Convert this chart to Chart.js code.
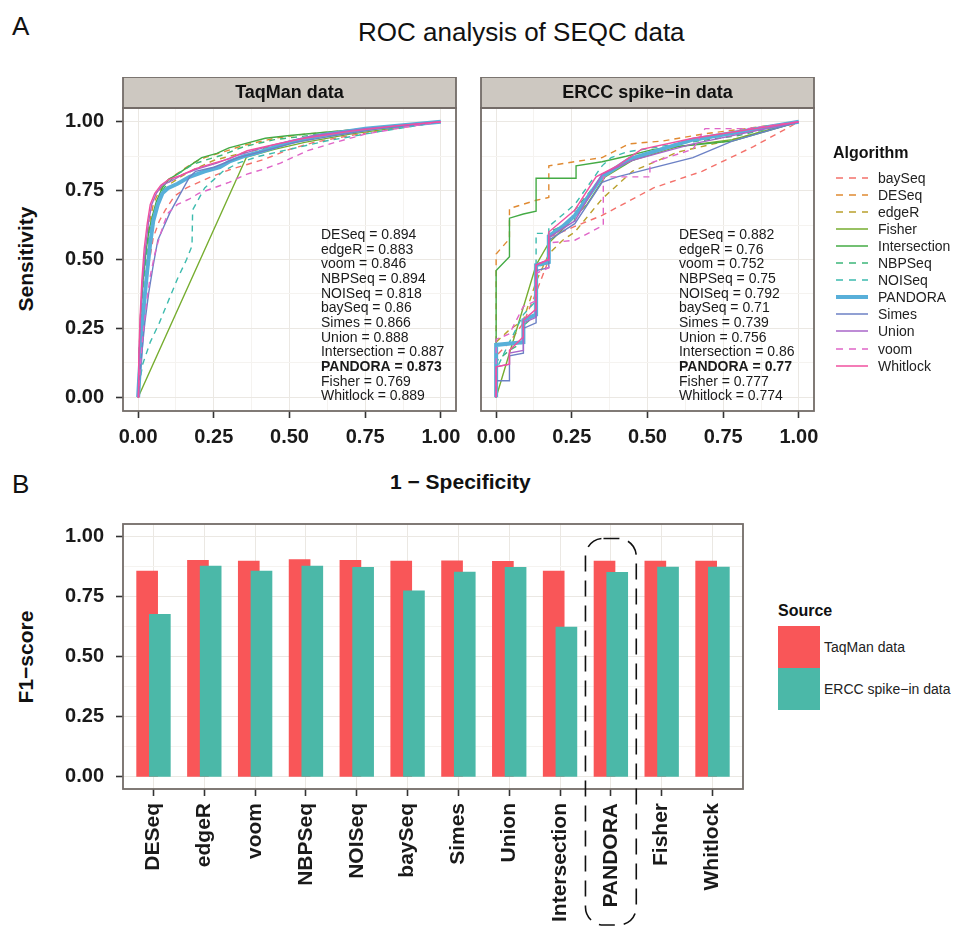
<!DOCTYPE html>
<html>
<head>
<meta charset="utf-8">
<script src="https://cdn.jsdelivr.net/npm/chart.js@4/dist/chart.umd.min.js"></script>
<style>
  body { margin: 0; background: #fff; font-family: "Liberation Sans", Arial, sans-serif; }
  #page { position: relative; width: 953px; height: 927px; overflow: hidden; }
  canvas { position: absolute; }
  .txt { position: absolute; white-space: nowrap; color: #111; line-height: 1; }
  .bold { font-weight: bold; }
  .rot { transform: translate(-50%, -50%) rotate(-90deg); }
  .lrow { position: absolute; left: 835px; height: 17px; display: flex; align-items: center; font-size: 14px; color: #222; }
  .lrow svg { margin-right: 9px; }
</style>
</head>
<body>
<div id="page">
  <div class="txt" style="left:12px;top:13px;font-size:26px;">A</div>
  <div class="txt" style="left:358px;top:19px;font-size:26px;">ROC analysis of SEQC data</div>
  <div class="txt bold rot" style="left:25px;top:259px;font-size:21px;position:absolute;">Sensitivity</div>
  <div class="txt bold" style="left:390px;top:471px;font-size:21px;">1 − Specificity</div>
  <div class="txt" style="left:12px;top:471px;font-size:26px;">B</div>
  <div class="txt bold rot" style="left:25px;top:657px;font-size:21px;position:absolute;">F1−score</div>

  <canvas id="taqman" width="430" height="372" style="left:55px;top:77px"></canvas>
  <canvas id="ercc" width="373" height="372" style="left:461px;top:77px"></canvas>
  <canvas id="f1" width="700" height="427" style="left:55px;top:500px"></canvas>

  <div class="txt bold" style="left:833px;top:145px;font-size:16px;">Algorithm</div>
  <div id="algoLegend"></div>

  <div class="txt bold" style="left:778px;top:603px;font-size:16px;">Source</div>
  <div id="srcLegend"></div>
</div>

<script>
Chart.defaults.font.family = '"Liberation Sans", Arial, sans-serif';

// ROC legend order (ggplot alphabetical)
const algorithms = ['baySeq', 'DESeq', 'edgeR', 'Fisher', 'Intersection', 'NBPSeq', 'NOISeq', 'PANDORA', 'Simes', 'Union', 'voom', 'Whitlock'];
const algoColors = ['#f4716b', '#e08a32', '#b9a02c', '#76ad2f', '#44ab45', '#3db779', '#3dbbae', '#58afd9', '#6c81c5', '#a866c8', '#e066c8', '#f0509f'];
const algoDashed = [true, true, true, false, false, true, true, false, false, false, true, false];

// method order used for AUC labels and F1 bars
const methods = ['DESeq', 'edgeR', 'voom', 'NBPSeq', 'NOISeq', 'baySeq', 'Simes', 'Union', 'Intersection', 'PANDORA', 'Fisher', 'Whitlock'];
const taqmanAuc = [0.894, 0.883, 0.846, 0.894, 0.818, 0.86, 0.866, 0.888, 0.887, 0.873, 0.769, 0.889];
const erccAuc = [0.882, 0.76, 0.752, 0.75, 0.792, 0.71, 0.739, 0.756, 0.86, 0.77, 0.777, 0.774];
const taqmanF1 = [0.855, 0.899, 0.896, 0.902, 0.899, 0.896, 0.897, 0.895, 0.855, 0.896, 0.896, 0.896];
const erccF1 = [0.675, 0.875, 0.855, 0.875, 0.870, 0.773, 0.850, 0.870, 0.622, 0.849, 0.871, 0.871];

const rocTicks = [0, 0.25, 0.5, 0.75, 1];
const f1Ticks = [0, 0.25, 0.5, 0.75, 1];

// ROC curves, [1 - specificity, sensitivity], same order as algorithms
const taqmanRoc = [
  [[0,0],[0.005,0.12],[0.012,0.25],[0.02,0.36],[0.035,0.48],[0.05,0.58],[0.07,0.64],[0.09,0.68],[0.12,0.73],[0.16,0.76],[0.2,0.78],[0.24,0.8],[0.3,0.825],[0.36,0.845],[0.42,0.865],[0.5,0.9],[0.58,0.925],[0.7,0.95],[0.85,0.975],[1,1]],
  [[0,0],[0.003,0.15],[0.008,0.3],[0.015,0.42],[0.025,0.53],[0.035,0.62],[0.05,0.7],[0.07,0.75],[0.1,0.79],[0.14,0.82],[0.18,0.85],[0.22,0.87],[0.28,0.89],[0.35,0.915],[0.45,0.94],[0.55,0.955],[0.7,0.97],[0.85,0.985],[1,1]],
  [[0,0],[0.004,0.14],[0.01,0.28],[0.018,0.4],[0.028,0.5],[0.04,0.6],[0.055,0.68],[0.075,0.73],[0.1,0.77],[0.14,0.8],[0.19,0.83],[0.25,0.86],[0.32,0.88],[0.4,0.9],[0.5,0.925],[0.62,0.95],[0.78,0.975],[1,1]],
  [[0,0],[0.358,0.872],[0.45,0.9],[0.55,0.925],[0.7,0.955],[0.85,0.978],[1,1]],
  [[0,0],[0.004,0.16],[0.009,0.3],[0.016,0.42],[0.025,0.52],[0.035,0.6],[0.045,0.65],[0.06,0.71],[0.08,0.76],[0.1,0.79],[0.13,0.81],[0.17,0.84],[0.21,0.87],[0.26,0.885],[0.3,0.905],[0.35,0.92],[0.42,0.94],[0.5,0.95],[0.6,0.96],[0.75,0.975],[1,1]],
  [[0,0],[0.003,0.14],[0.008,0.28],[0.015,0.4],[0.025,0.5],[0.035,0.58],[0.045,0.64],[0.06,0.7],[0.08,0.75],[0.1,0.78],[0.13,0.81],[0.18,0.845],[0.22,0.86],[0.28,0.88],[0.35,0.91],[0.45,0.935],[0.6,0.955],[0.8,0.98],[1,1]],
  [[0,0],[0.006,0.06],[0.015,0.12],[0.04,0.2],[0.07,0.27],[0.1,0.35],[0.13,0.43],[0.16,0.5],[0.178,0.55],[0.18,0.68],[0.2,0.72],[0.22,0.76],[0.25,0.79],[0.28,0.82],[0.33,0.85],[0.4,0.875],[0.5,0.9],[0.62,0.93],[0.8,0.965],[1,1]],
  [[0,0],[0.003,0.06],[0.008,0.15],[0.015,0.27],[0.022,0.37],[0.03,0.46],[0.04,0.56],[0.05,0.64],[0.065,0.7],[0.08,0.74],[0.1,0.76],[0.13,0.775],[0.17,0.8],[0.22,0.82],[0.27,0.835],[0.3,0.855],[0.35,0.875],[0.4,0.89],[0.5,0.925],[0.6,0.95],[0.75,0.975],[1,1]],
  [[0,0],[0.005,0.07],[0.012,0.16],[0.022,0.27],[0.035,0.38],[0.05,0.48],[0.065,0.57],[0.085,0.62],[0.105,0.67],[0.13,0.72],[0.15,0.76],[0.17,0.8],[0.19,0.82],[0.25,0.835],[0.33,0.87],[0.42,0.895],[0.52,0.925],[0.65,0.95],[0.8,0.975],[1,1]],
  [[0,0],[0.003,0.15],[0.008,0.3],[0.015,0.43],[0.025,0.55],[0.035,0.64],[0.045,0.7],[0.06,0.74],[0.08,0.77],[0.11,0.785],[0.15,0.81],[0.2,0.83],[0.26,0.85],[0.32,0.875],[0.38,0.895],[0.46,0.92],[0.58,0.95],[0.75,0.975],[1,1]],
  [[0,0],[0.005,0.08],[0.012,0.18],[0.02,0.27],[0.03,0.36],[0.04,0.44],[0.055,0.52],[0.07,0.58],[0.085,0.63],[0.1,0.67],[0.13,0.7],[0.17,0.72],[0.2,0.74],[0.25,0.76],[0.3,0.78],[0.36,0.81],[0.42,0.83],[0.47,0.85],[0.52,0.875],[0.56,0.895],[0.65,0.925],[0.75,0.955],[0.88,0.98],[1,1]],
  [[0,0],[0.002,0.14],[0.006,0.28],[0.012,0.42],[0.02,0.54],[0.03,0.63],[0.04,0.7],[0.055,0.74],[0.075,0.77],[0.1,0.79],[0.14,0.805],[0.19,0.83],[0.25,0.85],[0.3,0.865],[0.36,0.895],[0.44,0.915],[0.55,0.94],[0.7,0.965],[0.85,0.985],[1,1]]
];

const erccRoc = [
  [[0,0],[0,0.15],[0.044,0.2],[0.09,0.27],[0.132,0.38],[0.174,0.5],[0.174,0.58],[0.26,0.62],[0.35,0.66],[0.52,0.76],[0.68,0.82],[0.85,0.91],[1,1]],
  [[0,0],[0,0.52],[0.044,0.575],[0.044,0.685],[0.132,0.715],[0.174,0.725],[0.174,0.84],[0.26,0.855],[0.35,0.87],[0.44,0.92],[0.55,0.93],[0.68,0.955],[1,1]],
  [[0,0],[0,0.2],[0.044,0.245],[0.09,0.28],[0.132,0.42],[0.174,0.52],[0.22,0.57],[0.26,0.6],[0.35,0.72],[0.45,0.82],[0.6,0.89],[0.8,0.94],[1,1]],
  [[0,0],[0.132,0.48],[0.174,0.56],[0.22,0.61],[0.3,0.7],[0.36,0.8],[0.45,0.86],[0.6,0.91],[0.78,0.935],[1,1]],
  [[0,0],[0,0.46],[0.044,0.51],[0.044,0.65],[0.09,0.665],[0.132,0.675],[0.132,0.795],[0.264,0.795],[0.264,0.84],[0.35,0.855],[0.43,0.875],[0.52,0.9],[0.6,0.91],[0.78,0.93],[1,1]],
  [[0,0],[0,0.13],[0.044,0.17],[0.09,0.2],[0.09,0.26],[0.132,0.3],[0.132,0.47],[0.174,0.49],[0.174,0.6],[0.26,0.64],[0.26,0.68],[0.35,0.8],[0.45,0.86],[0.6,0.92],[0.8,0.95],[1,1]],
  [[0,0],[0,0.1],[0.044,0.2],[0.09,0.3],[0.132,0.35],[0.132,0.595],[0.174,0.595],[0.174,0.62],[0.26,0.7],[0.35,0.84],[0.38,0.87],[0.43,0.89],[0.65,0.93],[0.8,0.96],[1,1]],
  [[0,0],[0,0.19],[0.09,0.2],[0.09,0.28],[0.132,0.3],[0.132,0.48],[0.174,0.49],[0.174,0.585],[0.22,0.62],[0.26,0.66],[0.35,0.8],[0.44,0.865],[0.65,0.935],[1,1]],
  [[0,0],[0,0.06],[0.044,0.06],[0.044,0.15],[0.09,0.16],[0.09,0.25],[0.132,0.27],[0.132,0.46],[0.174,0.47],[0.174,0.57],[0.26,0.63],[0.35,0.78],[0.4,0.8],[0.65,0.87],[0.78,0.93],[1,1]],
  [[0,0],[0,0.11],[0.044,0.12],[0.044,0.16],[0.09,0.17],[0.09,0.27],[0.132,0.29],[0.132,0.48],[0.174,0.5],[0.174,0.58],[0.26,0.64],[0.35,0.81],[0.45,0.86],[0.65,0.92],[1,1]],
  [[0,0],[0,0.21],[0.044,0.23],[0.09,0.33],[0.132,0.35],[0.132,0.45],[0.174,0.47],[0.174,0.56],[0.26,0.57],[0.354,0.624],[0.354,0.8],[0.508,0.8],[0.508,0.85],[0.65,0.9],[0.69,0.975],[0.83,0.975],[1,1]],
  [[0,0],[0,0.11],[0.044,0.12],[0.044,0.17],[0.09,0.22],[0.09,0.28],[0.132,0.32],[0.132,0.48],[0.174,0.5],[0.174,0.6],[0.26,0.68],[0.33,0.8],[0.4,0.84],[0.48,0.9],[0.65,0.94],[1,1]]
];

const sourceNames = ['TaqMan data', 'ERCC spike−in data'];
const sourceColors = ['#f95658', '#4bb8a8'];

const GRID = '#ebe8e3', GRID_MINOR = '#f5f3f0', FRAME = '#736c68', INK = '#1a1a1a';

// strip on top + panel frame (ggplot facet look)
const facetPanel = {
  id: 'facetPanel',
  afterDraw(chart, args, opts) {
    const { ctx, chartArea: a } = chart;
    ctx.save();
    ctx.lineWidth = 1.8;
    ctx.strokeStyle = FRAME;
    if (opts.strip) {
      ctx.fillStyle = '#cdc8c1';
      ctx.fillRect(a.left, a.top - 31, a.right - a.left, 31);
      ctx.strokeRect(a.left, a.top - 31, a.right - a.left, 31);
      ctx.fillStyle = '#111';
      ctx.font = 'bold 18px "Liberation Sans", Arial, sans-serif';
      ctx.textAlign = 'center';
      ctx.textBaseline = 'middle';
      ctx.fillText(opts.strip, (a.left + a.right) / 2, a.top - 15);
    }
    ctx.strokeRect(a.left, a.top, a.right - a.left, a.bottom - a.top);
    ctx.restore();
  }
};

// AUC text block inside each ROC panel
const aucText = {
  id: 'aucText',
  afterDatasetsDraw(chart, args, opts) {
    if (!opts.values) return;
    const { ctx, scales: { x, y } } = chart;
    ctx.save();
    ctx.fillStyle = INK;
    ctx.textBaseline = 'middle';
    methods.forEach((m, i) => {
      const bold = m === 'PANDORA';
      ctx.font = (bold ? 'bold ' : '') + '14px "Liberation Sans", Arial, sans-serif';
      ctx.fillText(m + ' = ' + opts.values[i], x.getPixelForValue(0.604), y.getPixelForValue(0.588 - i * 0.0532));
    });
    ctx.restore();
  }
};

// dashed rounded box around PANDORA
const highlightBox = {
  id: 'highlightBox',
  afterDraw(chart, args, opts) {
    if (!opts.category) return;
    const { ctx, scales: { x, y } } = chart;
    const i = methods.indexOf(opts.category);
    const left = x.getPixelForValue(i - 0.5), right = x.getPixelForValue(i + 0.5);
    const top = y.getPixelForValue(0.99), bottom = chart.height - 2;
    ctx.save();
    ctx.strokeStyle = '#111';
    ctx.lineWidth = 1.6;
    ctx.setLineDash([16, 9]);
    ctx.beginPath();
    ctx.roundRect(left, top, right - left, bottom - top, 18);
    ctx.stroke();
    ctx.restore();
  }
};

function fineTicks(majors) {
  const out = [];
  majors.forEach((v, i) => {
    out.push({ value: v });
    if (i < majors.length - 1) out.push({ value: (v + majors[i + 1]) / 2 });
  });
  return out;
}
const isMajor = (v, majors) => majors.some(m => Math.abs(m - v) < 1e-9);

function rocAxis(axis, showLabels, size) {
  return {
    type: 'linear',
    min: -0.05, max: 1.05,
    afterBuildTicks: s => { s.ticks = fineTicks(rocTicks); },
    afterFit: s => { if (axis === 'x') s.height = size; else s.width = size; },
    border: { display: false },
    grid: {
      color: c => isMajor(c.tick.value, rocTicks) ? GRID : GRID_MINOR,
      tickColor: c => (showLabels && isMajor(c.tick.value, rocTicks)) ? '#333' : 'rgba(0,0,0,0)',
      tickLength: 7,
      tickWidth: 1.6,
      drawTicks: showLabels,
      lineWidth: 1
    },
    ticks: {
      display: showLabels,
      autoSkip: false,
      maxRotation: 0,
      padding: axis === 'x' ? 7 : 12,
      color: INK,
      font: { size: 20, weight: 'bold' },
      callback: v => isMajor(v, rocTicks) ? v.toFixed(2) : ''
    }
  };
}

function rocChart(id, curves, strip, auc, yWidth, padRight) {
  return new Chart(document.getElementById(id), {
    type: 'line',
    data: {
      datasets: algorithms.map((name, i) => ({
        label: name,
        data: curves[i].map(([x, y]) => ({ x, y })),
        borderColor: algoColors[i],
        borderWidth: name === 'PANDORA' ? 4 : 1.4,
        borderDash: algoDashed[i] ? [6, 5] : [],
        pointRadius: 0,
        tension: 0,
        fill: false,
        order: algorithms.length - 1 - i
      }))
    },
    options: {
      responsive: false,
      animation: false,
      events: [],
      layout: { padding: { top: 31, right: padRight, left: 0, bottom: 0 } },
      plugins: {
        legend: { display: false },
        tooltip: { enabled: false },
        facetPanel: { strip },
        aucText: { values: auc }
      },
      scales: {
        x: rocAxis('x', true, 38),
        y: rocAxis('y', yWidth > 30, yWidth)
      }
    },
    plugins: [facetPanel, aucText]
  });
}

rocChart('taqman', taqmanRoc, 'TaqMan data', taqmanAuc, 68, 29);
rocChart('ercc', erccRoc, 'ERCC spike−in data', erccAuc, 20, 20);

// F1 bars, dodged so the ERCC bar overlaps the right half of the TaqMan bar
new Chart(document.getElementById('f1'), {
  type: 'bar',
  data: {
    datasets: [taqmanF1, erccF1].map((vals, k) => ({
      label: sourceNames[k],
      data: vals.map((v, i) => ({ x: i + (k === 0 ? -0.125 : 0.125), y: v })),
      backgroundColor: sourceColors[k],
      barThickness: 21,
      grouped: false,
      order: 1 - k
    }))
  },
  options: {
    responsive: false,
    animation: false,
    events: [],
    layout: { padding: { top: 0, right: 12, left: 0, bottom: 0 } },
    plugins: {
      legend: { display: false },
      tooltip: { enabled: false },
      facetPanel: {},
      highlightBox: { category: 'PANDORA' }
    },
    scales: {
      x: {
        type: 'linear',
        min: -0.6, max: methods.length - 0.4,
        offset: false,
        afterBuildTicks: s => { s.ticks = methods.map((m, i) => ({ value: i })); },
        afterFit: s => { s.height = 138; },
        border: { display: false },
        grid: { offset: false, color: GRID, tickColor: '#333', tickLength: 7, tickWidth: 1.6 },
        ticks: {
          autoSkip: false,
          minRotation: 90, maxRotation: 90,
          padding: 7,
          color: INK,
          font: { size: 21, weight: 'bold' },
          callback: v => methods[Math.round(v)]
        }
      },
      y: {
        min: -0.05, max: 1.05,
        afterBuildTicks: s => { s.ticks = fineTicks(f1Ticks); },
        afterFit: s => { s.width = 68; },
        border: { display: false },
        grid: {
          color: c => isMajor(c.tick.value, f1Ticks) ? GRID : GRID_MINOR,
          tickColor: c => isMajor(c.tick.value, f1Ticks) ? '#333' : 'rgba(0,0,0,0)',
          tickLength: 7, tickWidth: 1.6
        },
        ticks: {
          autoSkip: false,
          padding: 12,
          color: INK,
          font: { size: 20, weight: 'bold' },
          callback: v => isMajor(v, f1Ticks) ? v.toFixed(2) : ''
        }
      }
    }
  },
  plugins: [facetPanel, highlightBox]
});

// legends
const algoLegend = document.getElementById('algoLegend');
algorithms.forEach((name, i) => {
  const row = document.createElement('div');
  row.className = 'lrow';
  row.style.top = (169 + i * 17.1) + 'px';
  const w = name === 'PANDORA' ? 4 : 1.5;
  const dash = algoDashed[i] ? 'stroke-dasharray="7,6"' : '';
  row.innerHTML = '<svg width="34" height="8"><line x1="1" y1="4" x2="33" y2="4" stroke="' + algoColors[i] +
    '" stroke-width="' + w + '" ' + dash + '/></svg><span>' + name + '</span>';
  algoLegend.appendChild(row);
});

const srcLegend = document.getElementById('srcLegend');
sourceNames.forEach((name, k) => {
  const sw = document.createElement('div');
  sw.style.cssText = 'position:absolute;left:778px;width:42px;height:42px;top:' + (626 + k * 42) + 'px;background:' + sourceColors[k];
  srcLegend.appendChild(sw);
  const t = document.createElement('div');
  t.className = 'txt';
  t.style.cssText = 'left:824px;font-size:14px;color:#222;top:' + (640 + k * 42) + 'px';
  t.textContent = name;
  srcLegend.appendChild(t);
});
</script>
</body>
</html>
